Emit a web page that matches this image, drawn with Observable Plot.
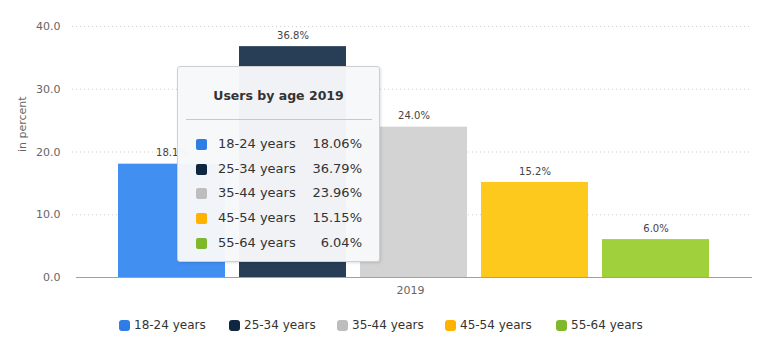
<!DOCTYPE html>
<html>
<head>
<meta charset="utf-8">
<script src="https://cdn.jsdelivr.net/npm/d3@7"></script>
<script src="https://cdn.jsdelivr.net/npm/@observablehq/plot@0.6"></script>
<style>
  html, body { margin: 0; padding: 0; background: #fff; }
  body { font-family: "DejaVu Sans", sans-serif; }
  #wrap { position: relative; width: 761px; height: 344px; overflow: hidden; }
  #tooltip {
    position: absolute; left: 177px; top: 66px; width: 203px; height: 196px;
    background: rgba(247, 248, 250, 0.97); border: 1px solid #cfcfcf; border-radius: 3px;
    box-shadow: 1px 1px 3px rgba(0,0,0,0.12); box-sizing: border-box;
  }
  #tooltip .title { position: absolute; left: 0; right: 0; top: 21px; text-align: center;
    font-weight: bold; font-size: 12.5px; color: #333; }
  #tooltip .sep { position: absolute; left: 8px; right: 7px; top: 52px; border-top: 1px solid #c8c8c8; }
  #tooltip .row { position: absolute; left: 18px; right: 17px; height: 18px; font-size: 13px; color: #333; line-height: 18px; }
  #tooltip .sw { position: absolute; left: 0; top: 4px; width: 11px; height: 11px; border-radius: 2px; }
  #tooltip .lab { position: absolute; left: 22px; }
  #tooltip .val { position: absolute; right: 0; }
  #legend { position: absolute; left: 0; top: 305px; width: 761px; height: 39px; }
  #legend .item { position: absolute; top: 12px; height: 16px; font-size: 12px; color: #333; line-height: 16px; white-space: nowrap; }
  #legend .sw { position: absolute; left: 0; top: 3px; width: 11px; height: 11px; border-radius: 3px; }
  #legend .lab { position: absolute; left: 15px; }
</style>
</head>
<body>
<div id="wrap">
  <div id="chart"></div>
  <div id="tooltip"></div>
  <div id="legend"></div>
</div>
<script>
const ages = ["18-24 years", "25-34 years", "35-44 years", "45-54 years", "55-64 years"];
const values = [18.06, 36.79, 23.96, 15.15, 6.04];
const valueLabels = ["18.1%", "36.8%", "24.0%", "15.2%", "6.0%"];
const tooltipValues = ["18.06%", "36.79%", "23.96%", "15.15%", "6.04%"];
const years = ["2019"];
const yTicks = [0, 10, 20, 30, 40];
const barColors = ["#418ff0", "#273e56", "#d3d3d3", "#fcc91c", "#a0d13c"];
const swatchColors = ["#2e7de6", "#0e2640", "#bdbdbd", "#ffb300", "#80b82c"];
const tooltipTitle = "Users by age 2019";
const yLabel = "in percent";

const data = ages.map((a, i) => ({age: a, value: values[i], label: valueLabels[i]}));
const font = "'DejaVu Sans', sans-serif";

const chart = Plot.plot({
  width: 761,
  height: 305,
  marginLeft: 68,
  marginRight: 9,
  marginTop: 26,
  marginBottom: 28,
  style: {fontFamily: font, fontSize: "11px", color: "#666", background: "transparent"},
  x: {domain: ages, range: [116, 711], paddingInner: 0.115, paddingOuter: 0, axis: null},
  y: {domain: [0, 40], axis: null},
  color: {domain: ages, range: barColors},
  marks: [
    Plot.ruleY(yTicks.filter(d => d > 0), {stroke: "#d0d0d0", strokeDasharray: "1,3", insetLeft: 4}),
    Plot.axisY({ticks: yTicks, tickSize: 0, tickPadding: 8, tickFormat: d => d.toFixed(1), label: null, fill: "#666", fontSize: 11}),
    Plot.barY(data, {x: "age", y: "value", fill: "age"}),
    Plot.ruleY([0], {stroke: "#a0a0a0", insetLeft: 8}),
    Plot.text(data, {x: "age", y: "value", text: "label", dy: -11, fill: "#444", fontSize: 10}),
    Plot.text(years, {frameAnchor: "bottom", dy: 16, text: d => d, fill: "#666", fontSize: 11}),
    Plot.text([yLabel], {frameAnchor: "left", rotate: -90, dx: -46, text: d => d, fill: "#666", fontSize: 11})
  ]
});
document.getElementById("chart").appendChild(chart);

// tooltip
const tt = document.getElementById("tooltip");
const t = document.createElement("div"); t.className = "title"; t.textContent = tooltipTitle; tt.appendChild(t);
const s = document.createElement("div"); s.className = "sep"; tt.appendChild(s);
ages.forEach((a, i) => {
  const r = document.createElement("div"); r.className = "row"; r.style.top = (68 + i * 24.7) + "px";
  r.innerHTML = `<span class="sw" style="background:${swatchColors[i]}"></span><span class="lab">${a}</span><span class="val">${tooltipValues[i]}</span>`;
  tt.appendChild(r);
});

// legend
const lg = document.getElementById("legend");
const legendX = [119, 229, 337, 445, 556];
ages.forEach((a, i) => {
  const it = document.createElement("div"); it.className = "item"; it.style.left = legendX[i] + "px";
  it.innerHTML = `<span class="sw" style="background:${swatchColors[i]}"></span><span class="lab">${a}</span>`;
  lg.appendChild(it);
});
</script>
</body>
</html>
